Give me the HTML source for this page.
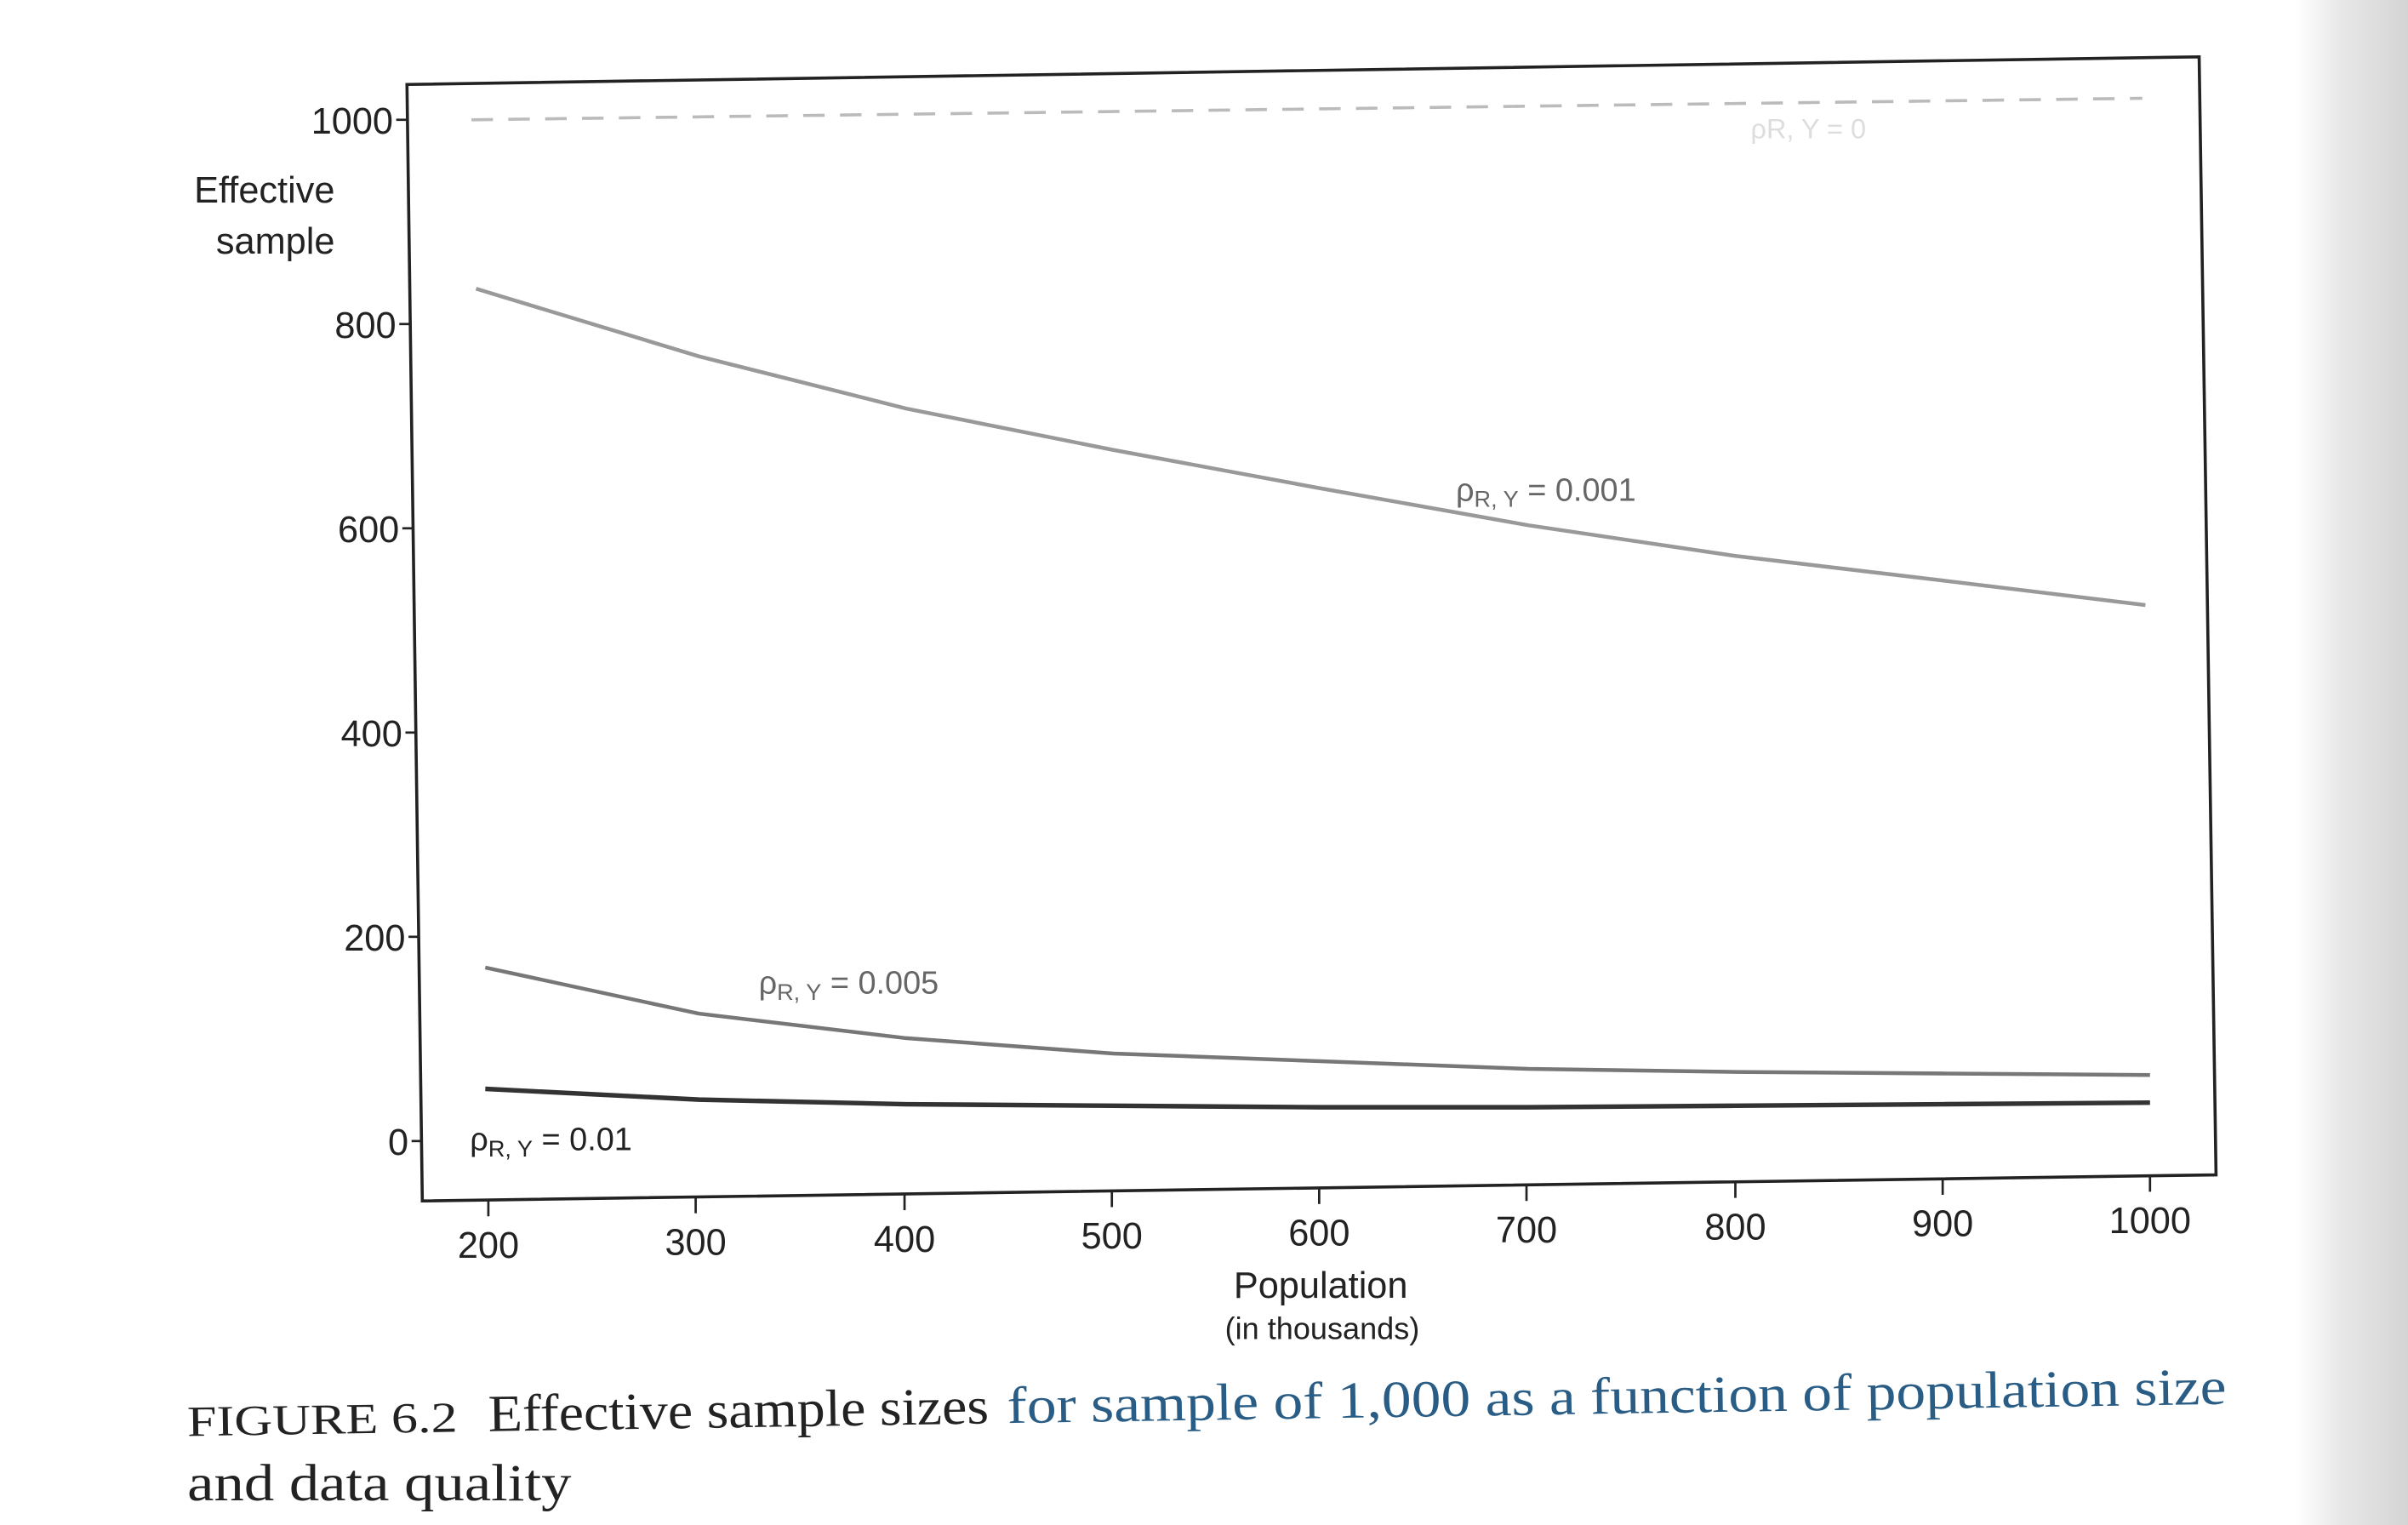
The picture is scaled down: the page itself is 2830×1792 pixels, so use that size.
<!DOCTYPE html>
<html><head><meta charset="utf-8"><style>
html,body{margin:0;padding:0;background:#fff;}
svg{display:block;}
</style></head><body>
<svg width="2830" height="1792" viewBox="0 0 1568 993" preserveAspectRatio="none" xmlns="http://www.w3.org/2000/svg" font-family="Liberation Sans, sans-serif">
<defs>
<linearGradient id="sh" x1="0" x2="1" y1="0" y2="0">
<stop offset="0" stop-color="#fff"/><stop offset="0.4" stop-color="#e8e8e8"/><stop offset="1" stop-color="#d4d4d4"/>
</linearGradient>
</defs>
<rect width="1568" height="993" fill="#fff"/>
<rect x="1495" y="0" width="73" height="993" fill="url(#sh)"/>
<polygon points="265,55 1432,37 1443,765 275,782" fill="none" stroke="#222" stroke-width="2"/>
<g stroke="#222" stroke-width="1.5">
<line x1="258" y1="78" x2="265" y2="78"/><line x1="260" y1="211" x2="267" y2="211"/>
<line x1="262" y1="344" x2="269" y2="344"/><line x1="264" y1="477" x2="271" y2="477"/>
<line x1="266" y1="610" x2="273" y2="610"/><line x1="268" y1="743" x2="275" y2="743"/>
</g>
<g font-size="24" fill="#222" text-anchor="end">
<text x="256" y="87">1000</text><text x="258" y="220">800</text><text x="260" y="353">600</text>
<text x="262" y="486">400</text><text x="264" y="619">200</text><text x="266" y="752">0</text>
</g>
<g font-size="24" fill="#222" text-anchor="end">
<text x="218" y="132">Effective</text><text x="218" y="165">sample</text>
</g>
<g stroke="#222" stroke-width="1.5">
<line x1="318" y1="782" x2="318" y2="792"/><line x1="453" y1="780" x2="453" y2="790"/>
<line x1="589" y1="778" x2="589" y2="788"/><line x1="724" y1="776" x2="724" y2="786"/>
<line x1="859" y1="774" x2="859" y2="784"/><line x1="994" y1="772" x2="994" y2="782"/>
<line x1="1130" y1="770" x2="1130" y2="780"/><line x1="1265" y1="768" x2="1265" y2="778"/>
<line x1="1400" y1="766" x2="1400" y2="776"/>
</g>
<g font-size="24" fill="#222" text-anchor="middle">
<text x="318" y="819">200</text><text x="453" y="817">300</text><text x="589" y="815">400</text>
<text x="724" y="813">500</text><text x="859" y="811">600</text><text x="994" y="809">700</text>
<text x="1130" y="807">800</text><text x="1265" y="805">900</text><text x="1400" y="803">1000</text>
<text x="860" y="845">Population</text>
<text x="861" y="872" font-size="20">(in thousands)</text>
</g>
<line x1="307" y1="78" x2="1395" y2="64" stroke="#bbb" stroke-width="2" stroke-dasharray="14,10"/>
<text x="1140" y="90" font-size="18" fill="#ddd">ρR, Y = 0</text>
<polyline fill="none" stroke="#999" stroke-width="2.5" points="310,188 455,232 590,266 725,293 860,318 995,342 1130,362 1265,378 1397,394"/>
<polyline fill="none" stroke="#777" stroke-width="2.5" points="316,630 455,660 590,676 725,686 860,691 995,696 1130,698 1265,699 1400,700"/>
<polyline fill="none" stroke="#333" stroke-width="3" points="316,709 455,716 590,719 725,720 860,721 995,721 1130,720 1265,719 1400,718"/>
<g font-size="21" fill="#666">
<text x="948" y="326">ρ<tspan font-size="15" dy="4">R, Y</tspan><tspan dy="-4"> = 0.001</tspan></text>
<text x="494" y="647">ρ<tspan font-size="15" dy="4">R, Y</tspan><tspan dy="-4"> = 0.005</tspan></text>
</g>
<text x="306" y="749" font-size="21" fill="#222">ρ<tspan font-size="15" dy="4">R, Y</tspan><tspan dy="-4"> = 0.01</tspan></text>
<g font-family="Liberation Serif, serif" font-size="34" transform="rotate(-0.9 122 933)">
<text x="122" y="935" font-size="28" fill="#222" textLength="176" lengthAdjust="spacingAndGlyphs">FIGURE 6.2</text>
<text x="318" y="935" fill="#222" textLength="326" lengthAdjust="spacingAndGlyphs">Effective sample sizes</text>
<text x="656" y="935" fill="#2a5d85" textLength="794" lengthAdjust="spacingAndGlyphs">for sample of 1,000 as a function of population size</text>
</g>
<text x="122" y="977" font-family="Liberation Serif, serif" font-size="34" fill="#222" textLength="250" lengthAdjust="spacingAndGlyphs">and data quality</text>
</svg>
</body></html>
